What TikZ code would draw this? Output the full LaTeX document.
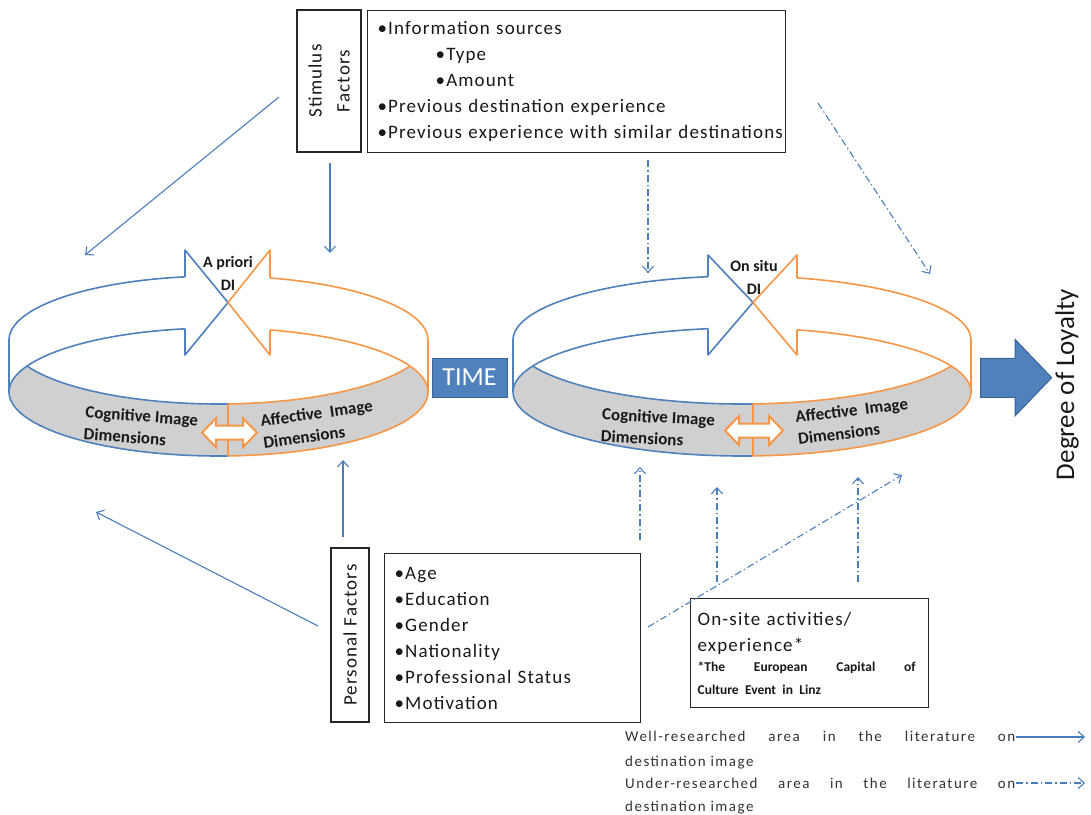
\documentclass[tikz,border=0pt]{standalone}
\usepackage{fontspec}
\setmainfont{Carlito}
\newfontfamily\boxfont[LetterSpace=6]{Carlito}
\newfontfamily\legendfont[LetterSpace=10]{Carlito}
\usetikzlibrary{arrows.meta,calc}
\definecolor{ringblue}{HTML}{4F81BD}
\definecolor{ringorange}{HTML}{F79646}
\definecolor{bandgrey}{HTML}{D0D0D0}
\definecolor{blockedge}{HTML}{3A6595}
\definecolor{linkblue}{HTML}{4A7EBB}

% #1 cx, #2 rx, #3 blue arrow base x, #4 orange arrow base x, #5 tip x, #6 barb top y
\newcommand{\DIring}[6]{%
 \pgfmathsetmacro\ringA{360-acos((#3-#1)/#2)}%
 \pgfmathsetmacro\ringB{360-acos((#4-#1)/#2)}%
 \pgfmathsetmacro\ringD{acos((#5-#1)/#2)}%
 \fill[bandgrey] ($(#1,392)+(180:#2 and 64)$) arc[start angle=180,end angle=204,x radius=#2,y radius=64]
   arc[start angle=156,end angle=24,x radius=#2,y radius=64]
   arc[start angle=336,end angle=360,x radius=#2,y radius=64]
   arc[start angle=0,end angle=180,x radius=#2,y radius=64] -- cycle;
 \draw[bline] ($(#1,340)+(\ringA:#2 and 64)$) arc[start angle=\ringA,end angle=180,x radius=#2,y radius=64]
   -- ++(0,52) arc[start angle=180,end angle=\ringD,x radius=#2,y radius=64];
 \draw[bline] ($(#1,392)+(\ringA:#2 and 64)$) arc[start angle=\ringA,end angle=180,x radius=#2,y radius=64];
 \draw[bline] ($(#1,340)+(156:#2 and 64)$) arc[start angle=156,end angle=\ringD,x radius=#2,y radius=64];
 \draw[bline] ($(#1,340)+(\ringA:#2 and 64)$) -- (#3,#6) -- (#5,302.5) -- (#3,355) -- ($(#1,392)+(\ringA:#2 and 64)$);
 \draw[oline] ($(#1,340)+(\ringB:#2 and 64)$) arc[start angle=\ringB,end angle=360,x radius=#2,y radius=64]
   -- ++(0,52) arc[start angle=0,end angle=\ringD,x radius=#2,y radius=64];
 \draw[oline] ($(#1,392)+(\ringB:#2 and 64)$) arc[start angle=\ringB,end angle=360,x radius=#2,y radius=64];
 \draw[oline] ($(#1,340)+(24:#2 and 64)$) arc[start angle=24,end angle=\ringD,x radius=#2,y radius=64];
 \draw[oline] ($(#1,340)+(\ringD:#2 and 64)$) -- ($(#1,392)+(\ringD:#2 and 64)$);
 \draw[oline] ($(#1,340)+(\ringB:#2 and 64)$) -- (#4,#6) -- (#5,302.5) -- (#4,355) -- ($(#1,392)+(\ringB:#2 and 64)$);
}
% #1 cx, #2 cy, #3 half length
\newcommand{\TwoWay}[3]{%
 \draw[oline, line width=2pt, fill=white, line join=miter] (#1-#3,#2) -- (#1-#3+14,#2-14.5) -- (#1-#3+14,#2-7) -- (#1+#3-14,#2-7)
   -- (#1+#3-14,#2-14.5) -- (#1+#3,#2) -- (#1+#3-14,#2+14.5) -- (#1+#3-14,#2+7) -- (#1-#3+14,#2+7) -- (#1-#3+14,#2+14.5) -- cycle;
}

\tikzset{
 bline/.style={draw=ringblue, line width=1.6pt, line join=round},
 oline/.style={draw=ringorange, line width=1.6pt, line join=round},
 boxframe/.style={draw=black!85, line width=1.3pt, fill=white, inner ysep=0pt},
 listtext/.style={font=\boxfont\fontsize{19}{26}\selectfont, text=black!90},
 bandtext/.style={font=\bfseries\fontsize{17}{22}\selectfont, align=left, inner sep=0pt, text=black!90},
 ditext/.style={font=\bfseries\fontsize{16}{23}\selectfont, align=center, inner sep=0pt, anchor=north, text=black!90},
 well/.style={draw=linkblue, line width=1.1pt, -{Straight Barb[length=6pt,width=11pt]}},
 under/.style={well, dash pattern=on 7pt off 3pt on 1.5pt off 3pt},
 block/.style={fill=ringblue, draw=blockedge, line width=1pt},
 legendtext/.style={font=\legendfont\fontsize{15}{23}\selectfont, text=black!80, inner sep=0pt, anchor=base west},
}

\begin{document}
\begin{tikzpicture}[x=1pt,y=-1pt]
\useasboundingbox (0,0) rectangle (1091,814);
\fill[white] (0,0) rectangle (1091,814);

% rings
\DIring{218.5}{209.5}{185}{270}{228}{250}
\DIring{742}{229}{708}{797}{753}{255}
\TwoWay{229.5}{432.7}{27.5}
\TwoWay{754}{430.5}{29}

\node[ditext] (aprioriDI) at (228,256.5) {A priori\\DI};
\node[ditext] (onsituDI) at (754,260.5) {On situ\\DI};

\node[bandtext, rotate=-4] (cogL) at (141,427) {Cognitive Image\\Dimensions};
\node[bandtext, rotate=8] (affL) at (318,424) {Affective\ \ Image\\Dimensions};
\node[bandtext, rotate=-3] (cogR) at (658,428) {Cognitive Image\\Dimensions};
\node[bandtext, rotate=7] (affR) at (853,421) {Affective\ \ Image\\Dimensions};

% TIME and loyalty
\node[block, text=white, font=\fontsize{26}{28}\selectfont, minimum width=75pt, minimum height=39pt, inner sep=0pt] (time) at (469.5,377.5) {TIME};
\draw[block, line join=miter] (980.7,358.3) -- (1015,358.3) -- (1015,339.3) -- (1051.7,377.7) -- (1015,416) -- (1015,397.3) -- (980.7,397.3) -- cycle;
\node[rotate=90, anchor=base, font=\fontsize{27}{30}\selectfont, inner sep=0pt, text=black!90] (loyal) at (1074,384.5) {Degree of Loyalty};

% boxes
\node[boxframe, rotate=90, minimum width=142pt, minimum height=64pt, align=center, inner sep=0pt, font=\boxfont\fontsize{19}{28}\selectfont, text=black!90] (stim) at (329,81) {Stimulus\\Factors};
\node[boxframe, listtext, anchor=north west, text width=398pt, minimum height=142pt, inner xsep=10pt, align=left] (info) at (367,10)
 {\mbox{•Information sources}\\\hspace*{58pt}•Type\\\hspace*{58pt}•Amount\\\mbox{•Previous destination experience}\\\mbox{•Previous experience with similar destinations}};
\node[boxframe, rotate=90, minimum width=174pt, minimum height=38pt, inner sep=0pt, font=\boxfont\fontsize{19}{26}\selectfont, text=black!90] (pers) at (350,635) {Personal Factors};
\node[boxframe, listtext, anchor=north west, text width=236pt, minimum height=169pt, inner xsep=10pt, align=left] (plist) at (384,553)
 {•Age\\•Education\\•Gender\\•Nationality\\\mbox{•Professional Status}\\•Motivation};
\node[boxframe, listtext, anchor=north west, text width=224pt, minimum height=109pt, inner xsep=7pt, align=left] (act) at (690,598)
 {\mbox{On-site activities/}\\experience*\\[-3pt]{\normalfont\bfseries\fontsize{13.5}{23}\selectfont\makebox[218pt][l]{*The\hfill European\hfill Capital\hfill of}\\[-3pt]Culture Event in Linz}};

% connectors
\coordinate (stimA) at (279,97);   \coordinate (aprioriNW) at (85,255);
\coordinate (stimB) at (330,163);  \coordinate (aprioriTop) at (330,253);
\coordinate (infoA) at (648,160);  \coordinate (onsituTopL) at (648,273);
\coordinate (infoB) at (818,103);  \coordinate (onsituTopR) at (930,274);
\coordinate (persA) at (343,537);  \coordinate (aprioriBot) at (343,460);
\coordinate (persB) at (318,626);  \coordinate (aprioriSW) at (96,512);
\coordinate (persC) at (640,540);  \coordinate (onsituBotA) at (640,467);
\coordinate (actA) at (717,582);   \coordinate (onsituBotB) at (717,487);
\coordinate (actB) at (858,582);   \coordinate (onsituBotC) at (858,477);
\coordinate (persD) at (648,627);  \coordinate (onsituBotD) at (902,475);

\draw[well] (stimA) -- (aprioriNW);
\draw[well] (stimB) -- (aprioriTop);
\draw[well] (persA) -- (aprioriBot);
\draw[well] (persB) -- (aprioriSW);
\draw[under] (infoA) -- (onsituTopL);
\draw[under] (infoB) -- (onsituTopR);
\draw[under] (persC) -- (onsituBotA);
\draw[under] (actA) -- (onsituBotB);
\draw[under] (actB) -- (onsituBotC);
\draw[under] (persD) -- (onsituBotD);

% legend
\node[legendtext] (leg1) at (625,741) {\makebox[390pt][l]{Well-researched\hfill area\hfill in\hfill the\hfill literature\hfill on}};
\node[legendtext] (leg2) at (625,766) {destination image};
\node[legendtext] (leg3) at (625,788) {\makebox[390pt][l]{Under-researched\hfill area\hfill in\hfill the\hfill literature\hfill on}};
\node[legendtext] (leg4) at (625,811) {destination image};
\coordinate (legA) at (1085,737);
\coordinate (legB) at (1085,783);
\draw[well] ($(leg1.base east)+(1,-4)$) -- (legA);
\draw[under] ($(leg3.base east)+(1,-5)$) -- (legB);
\end{tikzpicture}
\end{document}
